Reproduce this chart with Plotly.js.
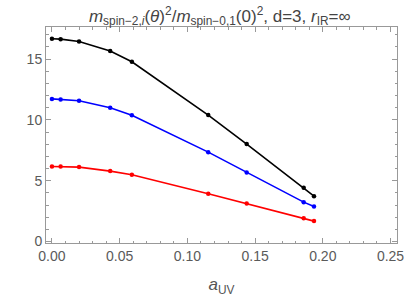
<!DOCTYPE html>
<html><head><meta charset="utf-8">
<script src="https://cdn.plot.ly/plotly-3.0.1.min.js"></script>
<style>html,body{margin:0;padding:0;background:#fff;}#c{width:407px;height:297px;}</style>
</head><body><div id="c"></div>
<script>
const aUV = [0, 0.0064, 0.020, 0.043, 0.059, 0.1154, 0.1438, 0.1859, 0.1935];
const blackVals = [16.67, 16.64, 16.45, 15.66, 14.78, 10.4, 8.01, 4.42, 3.73];
const blueVals = [11.73, 11.68, 11.57, 11.0, 10.39, 7.35, 5.67, 3.24, 2.88];
const redVals = [6.17, 6.16, 6.12, 5.79, 5.49, 3.93, 3.12, 1.92, 1.68];
const xTicks = [0, 0.05, 0.10, 0.15, 0.20, 0.25];
const xTickText = ["0.00", "0.05", "0.10", "0.15", "0.20", "0.25"];
const yTicks = [0, 5, 10, 15];

function tr(y, color) {
  return {x: aUV, y: y, mode: 'lines+markers', type: 'scatter',
    line: {color: color, width: 1.6}, marker: {color: color, size: 4.5}, showlegend: false, hoverinfo: 'none'};
}
const axisCommon = {
  showline: true, linecolor: '#999', linewidth: 1, mirror: 'allticks',
  ticks: 'inside', ticklen: 5, tickcolor: '#999', tickwidth: 1,
  showgrid: false, zeroline: false,
  tickfont: {family: 'Liberation Sans, Arial, sans-serif', size: 14, color: '#5a5a5a'}
};
const layout = {
  width: 407, height: 297,
  margin: {l: 46, r: 10, t: 27, b: 54},
  paper_bgcolor: '#fff', plot_bgcolor: '#fff',
  title: {text: '<i>m</i><sub>spin\u22122,<i>i</i></sub>(<i>\u03b8</i>)<sup>2</sup>/<i>m</i><sub>spin\u22120,1</sub>(0)<sup>2</sup>, d=3, <i>r</i><sub>IR</sub>=\u221e',
    font: {family: 'Liberation Sans, Arial, sans-serif', size: 17, color: '#444'},
    x: 0.54, xanchor: 'center', y: 0.947, yanchor: 'middle'},
  xaxis: Object.assign({}, axisCommon, {
    range: [-0.0044, 0.2548], tickvals: xTicks, ticktext: xTickText,
    minor: {dtick: 0.01, ticks: 'inside', ticklen: 2.5, tickcolor: '#999'},
    title: {text: '<i>a</i><sub>UV</sub>', font: {family: 'Liberation Sans, Arial, sans-serif', size: 17, color: '#555'}, standoff: 18}
  }),
  yaxis: Object.assign({}, axisCommon, {
    range: [-0.12, 17.64], tickvals: yTicks,
    minor: {dtick: 1, ticks: 'inside', ticklen: 2.5, tickcolor: '#999'}
  })
};
Plotly.newPlot('c', [tr(blackVals, '#000'), tr(blueVals, '#0000ff'), tr(redVals, '#ff0000')], layout, {staticPlot: true, displayModeBar: false});
</script></body></html>
